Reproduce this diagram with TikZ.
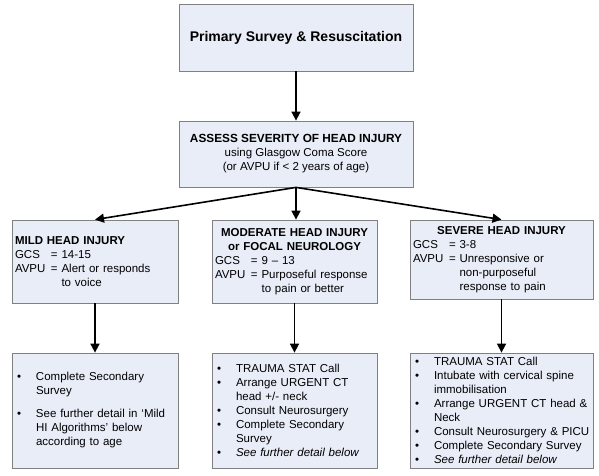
\documentclass[tikz,border=0pt]{standalone}
\usepackage{fontspec}
\setmainfont{Liberation Sans}
\usetikzlibrary{arrows.meta}
\definecolor{boxfill}{RGB}{233,237,248}
\definecolor{boxline}{RGB}{128,128,128}
\newcommand{\bul}{\makebox[21pt][l]{\hspace{2pt}\textbullet}}
\newcommand{\ind}{\hspace*{21pt}}
\newcommand{\lbl}[1]{\makebox[36pt][l]{#1}}
\newcommand{\cnt}{\hspace*{36pt}\phantom{= }}
\newcommand{\ctr}[1]{\makebox[\linewidth][c]{\bfseries #1}}
\begin{document}
\begin{tikzpicture}[x=1pt,y=-1pt,
  box/.style={draw=boxline, line width=0.8pt, fill=boxfill, inner xsep=3pt, inner ysep=2pt, font=\fontsize{11.5}{14}\selectfont},
  arr/.style={line width=1.6pt, -{Triangle[length=9pt,width=9pt]}}]
\useasboundingbox (0,0) rectangle (599,475);
\node[box, minimum width=234pt, minimum height=67pt, font=\fontsize{14}{16}\selectfont\bfseries] (top) at (296,37.5) {Primary Survey \& Resuscitation};
\node[box, minimum width=234pt, minimum height=66pt, align=center] (assess) at (296,154) {{\fontsize{11.8}{14}\selectfont\bfseries ASSESS SEVERITY OF HEAD INJURY}\\using Glasgow Coma Score\\(or AVPU if < 2 years of age)};
\node[box, minimum width=166pt, minimum height=83pt, text width=160pt, align=left] (mild) at (95,261.5) {\textbf{MILD HEAD INJURY}\\ \lbl{GCS}= 14-15\\ \lbl{AVPU}= Alert or responds\\ \cnt to voice};
\node[box, minimum width=165pt, minimum height=83pt, text width=159pt, align=left] (mod) at (294.5,261.5) {\ctr{MODERATE HEAD INJURY}\\ \ctr{or FOCAL NEUROLOGY}\\ \lbl{GCS}= 9 – 13\\ \lbl{AVPU}= Purposeful response\\ \cnt to pain or better};
\node[box, minimum width=183pt, minimum height=79pt, text width=177pt, align=left] (sev) at (501.5,259.5) {\ctr{SEVERE HEAD INJURY}\\ \lbl{GCS}= 3-8\\ \lbl{AVPU}= Unresponsive or\\ \cnt non-purposeful\\ \cnt response to pain};
\node[box, minimum width=166pt, minimum height=115pt, text width=160pt, align=left] (mild2) at (95,410.5) {\bul Complete Secondary\\ \ind Survey\\[9pt] \bul See further detail in `Mild\\ \ind HI Algorithms' below\\ \ind according to age};
\node[box, minimum width=165pt, minimum height=115pt, text width=159pt, align=left] (mod2) at (294.5,410.5) {\bul TRAUMA STAT Call\\ \bul Arrange URGENT CT\\ \ind head +/- neck\\ \bul Consult Neurosurgery\\ \bul Complete Secondary\\ \ind Survey\\ \bul \textit{See further detail below}};
\node[box, minimum width=183pt, minimum height=115pt, text width=177pt, align=left] (sev2) at (501.5,410.5) {\bul TRAUMA STAT Call\\ \bul Intubate with cervical spine\\ \ind immobilisation\\ \bul Arrange URGENT CT head \&\\ \ind Neck\\ \bul Consult Neurosurgery \& PICU\\ \bul Complete Secondary Survey\\ \bul \textit{See further detail below}};
\draw[arr] (top) -- (assess);
\draw[arr] (assess.south) -- (mild.north);
\draw[arr] (assess.south) -- (assess.south |- mod.north);
\draw[arr] (assess.south) -- (sev.north);
\draw[arr] (mild) -- (mild2);
\draw[arr] (mod) -- (mod2);
\draw[arr] (sev) -- (sev2);
\end{tikzpicture}
\end{document}
